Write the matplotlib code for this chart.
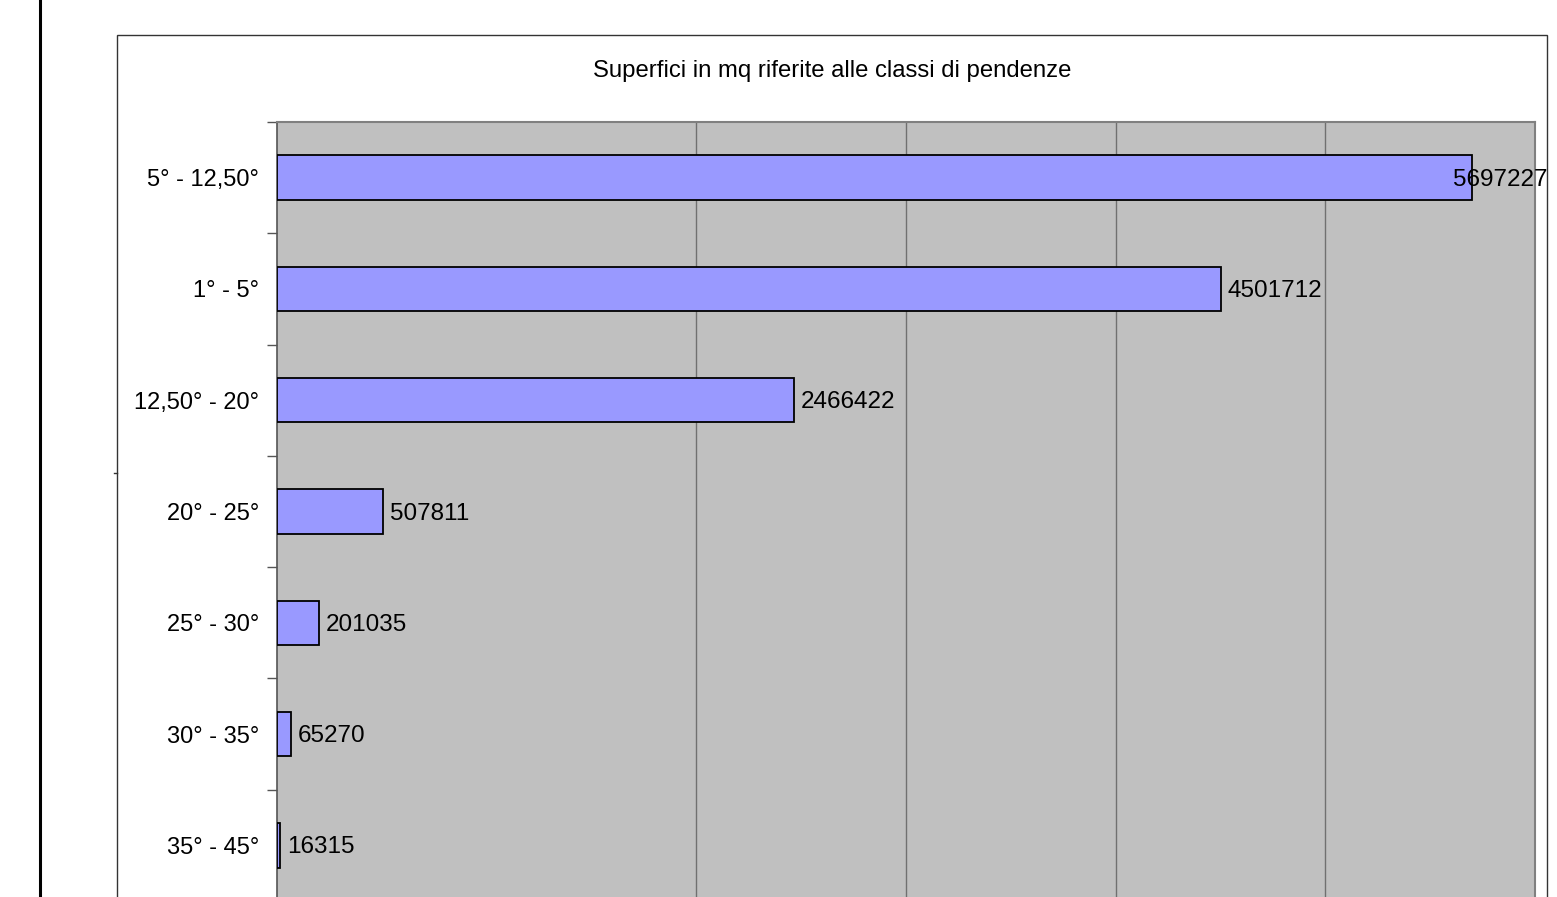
import matplotlib
matplotlib.use("Agg")
import matplotlib.pyplot as plt
from matplotlib.lines import Line2D
from matplotlib.patches import Rectangle

plt.rcParams['font.family'] = ['Liberation Sans', 'DejaVu Sans']

title = "Superfici in mq riferite alle classi di pendenze"
categories = ["5° - 12,50°", "1° - 5°", "12,50° - 20°", "20° - 25°",
              "25° - 30°", "30° - 35°", "35° - 45°"]
values = [5697227, 4501712, 2466422, 507811, 201035, 65270, 16315]
x_max = 6000000
gridlines = [2000000, 3000000, 4000000, 5000000]

W, H = 1557, 897
fig = plt.figure(figsize=(W / 100, H / 100), dpi=100)
fig.patch.set_facecolor("white")

# page line on the left
fig.add_artist(Line2D([40 / W, 40 / W], [0, 1], transform=fig.transFigure,
                      color="black", lw=2.2))
# chart border
border_l, border_r, border_t = 117 / W, 1547 / W, 1 - 35 / H
fig.add_artist(Rectangle((border_l, -0.1), border_r - border_l, border_t + 0.1,
                         transform=fig.transFigure, fill=False,
                         edgecolor="#333333", lw=1.0))
fig.add_artist(Line2D([114 / W, 117 / W], [1 - 473 / H, 1 - 473 / H],
                      transform=fig.transFigure, color="#333333", lw=1.0))

ax_l, ax_r, ax_t, ax_b = 277 / W, 1535 / W, 1 - 122 / H, 1 - 901 / H
ax = fig.add_axes([ax_l, ax_b, ax_r - ax_l, ax_t - ax_b])
ax.set_facecolor("#C0C0C0")

pos = list(range(len(categories)))
ax.barh(pos, values, height=0.4, color="#9999FF", edgecolor="black",
        linewidth=1.3, zorder=3)
for g in gridlines:
    ax.axvline(g, color="#707070", lw=1.0, zorder=1)

ax.set_xlim(0, x_max)
ax.set_ylim(len(categories) - 0.5, -0.5)
ax.set_xticks([])
ax.set_yticks(pos)
ax.set_yticklabels(categories, fontsize=17)
ax.set_yticks([p - 0.5 for p in pos] + [len(pos) - 0.5], minor=True)
ax.tick_params(axis="y", which="major", length=0, pad=13)
ax.tick_params(axis="y", which="minor", length=7, width=1, color="#555555",
               direction="out")
for s in ["top", "right", "bottom"]:
    ax.spines[s].set_color("#808080")
    ax.spines[s].set_linewidth(1.5)
ax.spines["left"].set_color("#555555")
ax.spines["left"].set_linewidth(1.2)

fig.text(832 / W, 1 - 71 / H, title, ha="center", va="center", fontsize=17.2)

fig.canvas.draw()
renderer = fig.canvas.get_renderer()
for p, v in zip(pos, values):
    t = ax.annotate(str(v), xy=(v, p), xytext=(5, -1.5), textcoords="offset points",
                    ha="left", va="center", fontsize=17.5, zorder=5,
                    annotation_clip=False)
    bb = t.get_window_extent(renderer)
    if bb.x1 > border_r * W:
        t.remove()
        y_disp = ax.transData.transform((v, p))[1] - 2
        fig.text(border_r, y_disp / H, str(v), ha="right", va="center",
                 fontsize=17.5, zorder=5)

fig.savefig("out.png", dpi=100, facecolor="white")
